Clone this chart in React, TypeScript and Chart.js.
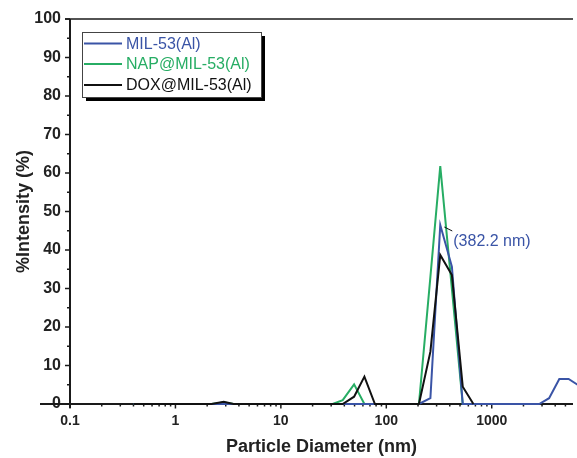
import React, { useEffect, useRef } from "react";
import { Chart, registerables } from "chart.js";

Chart.register(...registerables);

// ---- data ----
const seriesLabels = ["MIL-53(Al)", "NAP@MIL-53(Al)", "DOX@MIL-53(Al)"];
const seriesColors = ["#3a54a6", "#27ad64", "#111111"];

const milDiameters = [0.4, 204, 262, 325, 419, 531, 2818, 3500, 4375, 5360, 6700];
const milIntensity = [0, 0, 1.5, 46.5, 35.7, 0, 0, 1.5, 6.5, 6.5, 4.8];

const napDiameters = [0.4, 2.2, 2.87, 3.56, 31, 38.6, 49.5, 62, 204, 262, 325, 419, 531, 670];
const napIntensity = [0, 0, 0.4, 0, 0, 1, 5.1, 0, 0, 33, 61.8, 29.9, 0, 0];

const doxDiameters = [0.4, 2.2, 2.87, 3.56, 38.6, 49.5, 62, 78, 204, 262, 325, 419, 531, 670];
const doxIntensity = [0, 0, 0.6, 0, 0, 1.9, 7.1, 0, 0, 13.6, 38.7, 33.5, 4.5, 0];

const xMin = 0.1;
const xMax = 5900;
const yMin = 0;
const yMax = 100;
const yStep = 10;
const xDecades = [0.1, 1, 10, 100, 1000, 10000];
const annotationText = "(382.2 nm)";
const annotationAt = { x: 325, y: 46.5 };
const xTitle = "Particle Diameter (nm)";
const yTitle = "%Intensity (%)";

const FONT = "'Liberation Sans', Arial, Helvetica, sans-serif";

function toPoints(xs: number[], ys: number[]) {
  return xs.map((x, i) => ({ x, y: ys[i] }));
}

const framePlugin = {
  id: "frame",
  beforeDatasetsDraw(chart: any) {
    const { ctx, chartArea } = chart;
    const xs = chart.scales.x;
    const ys = chart.scales.y;
    const { left, right, top, bottom } = chartArea;
    const y0 = ys.getPixelForValue(0);
    ctx.save();
    ctx.strokeStyle = "#1a1a1a";
    ctx.lineCap = "butt";
    // top border
    ctx.lineWidth = 1.6;
    ctx.beginPath();
    ctx.moveTo(left - 5, top);
    ctx.lineTo(right, top);
    ctx.stroke();
    // y axis
    ctx.lineWidth = 2;
    ctx.beginPath();
    ctx.moveTo(left, top);
    ctx.lineTo(left, bottom + 4);
    ctx.stroke();
    // x axis (extends left past the y axis)
    ctx.beginPath();
    ctx.moveTo(40, y0);
    ctx.lineTo(right, y0);
    ctx.stroke();
    // y ticks
    ctx.lineWidth = 1.5;
    for (let v = yMin; v <= yMax; v += yStep / 2) {
      const py = ys.getPixelForValue(v);
      const major = v % yStep === 0;
      ctx.beginPath();
      ctx.moveTo(left - (major ? 5 : 3), py);
      ctx.lineTo(left, py);
      ctx.stroke();
    }
    // x ticks
    for (const d of xDecades) {
      for (let m = 1; m <= 9; m++) {
        const v = d * m;
        if (v < xMin || v > xMax) continue;
        const px = xs.getPixelForValue(v);
        ctx.beginPath();
        ctx.moveTo(px, y0);
        ctx.lineTo(px, y0 + (m === 1 ? 4.5 : 2.5));
        ctx.stroke();
      }
    }
    ctx.restore();
  },
  afterDraw(chart: any) {
    const { ctx } = chart;
    const xs = chart.scales.x;
    const ys = chart.scales.y;
    ctx.save();
    // legend box with shadow
    const bx = 82, by = 32, bw = 179, bh = 65;
    ctx.fillStyle = "#000";
    ctx.fillRect(bx + 4, by + 4, bw, bh);
    ctx.fillStyle = "#fff";
    ctx.fillRect(bx, by, bw, bh);
    ctx.strokeStyle = "#444";
    ctx.lineWidth = 1;
    ctx.strokeRect(bx + 0.5, by + 0.5, bw, bh);
    ctx.font = `16px ${FONT}`;
    ctx.textBaseline = "middle";
    ctx.textAlign = "left";
    const rows = [43.5, 64, 85];
    seriesLabels.forEach((label, i) => {
      const ry = rows[i];
      ctx.strokeStyle = seriesColors[i];
      ctx.lineWidth = 2;
      ctx.beginPath();
      ctx.moveTo(84, ry);
      ctx.lineTo(122, ry);
      ctx.stroke();
      ctx.fillStyle = seriesColors[i];
      ctx.fillText(label, 126, ry + 1);
    });
    // annotation
    const ax = xs.getPixelForValue(annotationAt.x);
    const ay = ys.getPixelForValue(annotationAt.y);
    ctx.strokeStyle = "#111";
    ctx.lineWidth = 1;
    ctx.beginPath();
    ctx.moveTo(ax + 4, ay + 2);
    ctx.lineTo(ax + 12, ay + 6);
    ctx.stroke();
    ctx.fillStyle = seriesColors[0];
    ctx.font = `16px ${FONT}`;
    ctx.fillText(annotationText, ax + 13, ay + 17);
    ctx.restore();
  },
};

export default function App() {
  const ref = useRef<HTMLCanvasElement | null>(null);
  useEffect(() => {
    document.body.style.margin = "0";
    const canvas = ref.current;
    if (!canvas) return;
    const chart = new Chart(canvas, {
      type: "line",
      data: {
        datasets: [
          {
            label: seriesLabels[2],
            data: toPoints(doxDiameters, doxIntensity),
            borderColor: seriesColors[2],
            order: 0,
          },
          {
            label: seriesLabels[0],
            data: toPoints(milDiameters, milIntensity),
            borderColor: seriesColors[0],
            order: 1,
          },
          {
            label: seriesLabels[1],
            data: toPoints(napDiameters, napIntensity),
            borderColor: seriesColors[1],
            order: 2,
          },
        ].map((d) => ({
          ...d,
          borderWidth: 2,
          pointRadius: 0,
          tension: 0,
          fill: false,
          clip: { left: 5, top: 5, right: 5, bottom: 5 },
        })) as any,
      },
      options: {
        animation: false,
        responsive: false,
        events: [],
        layout: { padding: { top: 19, right: 0, left: 0, bottom: 0 } },
        plugins: { legend: { display: false }, tooltip: { enabled: false } },
        scales: {
          x: {
            type: "logarithmic",
            min: xMin,
            max: xMax,
            grid: { display: true, drawOnChartArea: false, drawTicks: true, tickLength: 5, tickColor: "rgba(0,0,0,0)" },
            border: { display: false },
            ticks: {
              autoSkip: false,
              maxRotation: 0,
              padding: 4,
              color: "#222",
              font: { family: FONT, size: 14, weight: "bold" },
              callback: (v: any) => {
                const n = Number(v);
                const l = Math.log10(n);
                if (Math.abs(l - Math.round(l)) > 1e-6) return "";
                return n < 1 ? n.toFixed(1) : String(Math.round(n));
              },
            },
            title: {
              display: true,
              text: xTitle,
              color: "#222",
              font: { family: FONT, size: 18, weight: "bold" },
              padding: { top: 0, bottom: 0 },
            },
            afterFit: (s: any) => {
              s.height = 54;
            },
          } as any,
          y: {
            type: "linear",
            min: yMin,
            max: yMax,
            grid: { display: true, drawOnChartArea: false, drawTicks: true, tickLength: 5, tickColor: "rgba(0,0,0,0)" },
            border: { display: false },
            ticks: {
              stepSize: yStep,
              padding: 4,
              color: "#222",
              font: { family: FONT, size: 16, weight: "bold" },
            },
            title: {
              display: true,
              text: yTitle,
              color: "#222",
              font: { family: FONT, size: 18, weight: "bold" },
              padding: { top: 13, bottom: 0 },
            },
            afterFit: (s: any) => {
              s.width = 70;
            },
          } as any,
        },
      },
      plugins: [framePlugin],
    });
    return () => chart.destroy();
  }, []);
  return <canvas ref={ref} width={577} height={458} style={{ display: "block" }} />;
}
